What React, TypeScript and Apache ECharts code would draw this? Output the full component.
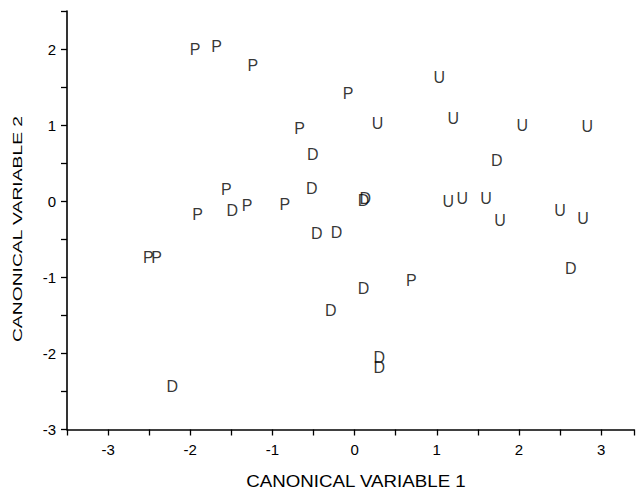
import React, { useEffect, useRef } from "react";
import * as echarts from "echarts";

// Group P
const pX = [-1.94, -1.68, -1.24, -0.08, -0.67, -1.56, -1.91, -1.31, -0.85, -2.51, -2.41, 0.69];
const pY = [2.0, 2.04, 1.78, 1.41, 0.95, 0.16, -0.17, -0.06, -0.04, -0.74, -0.74, -1.04];
// Group D
const dX = [-0.51, 1.73, -0.52, -1.49, 0.13, 0.11, -0.46, -0.22, -2.22, -0.29, 0.11, 2.63, 0.3, 0.3];
const dY = [0.62, 0.54, 0.17, -0.12, 0.03, 0.01, -0.43, -0.41, -2.43, -1.44, -1.15, -0.89, -2.06, -2.18];
// Group U
const uX = [1.03, 0.28, 1.2, 2.04, 2.83, 1.14, 1.31, 1.6, 1.77, 2.5, 2.78];
const uY = [1.62, 1.02, 1.09, 1.0, 0.98, -0.01, 0.03, 0.03, -0.25, -0.12, -0.23];

const groups = [
  { name: "P", xs: pX, ys: pY },
  { name: "D", xs: dX, ys: dY },
  { name: "U", xs: uX, ys: uY },
];

const xTitle = "CANONICAL VARIABLE 1";
const yTitle = "CANONICAL VARIABLE 2";

export default function App() {
  const ref = useRef<HTMLDivElement>(null);
  useEffect(() => {
    if (!ref.current) return;
    const chart = echarts.init(ref.current, null, { renderer: "svg" });
    const font = "'Liberation Sans', Arial, sans-serif";
    const axisCommon = {
      interval: 0.5,
      axisLine: { show: true, onZero: false, lineStyle: { color: "#000", width: 1.6 } },
      axisTick: { show: true, inside: false, length: 6, lineStyle: { color: "#000", width: 1.3 } },
      splitLine: { show: false },
      axisLabel: {
        color: "#000",
        fontSize: 15,
        fontFamily: font,
        formatter: (v: number) => (Math.abs(v - Math.round(v)) < 1e-9 ? String(Math.round(v)) : ""),
      },
    };
    chart.setOption({
      animation: false,
      backgroundColor: "#fff",
      grid: { left: 67, right: 0, top: 11, bottom: 61.5, containLabel: false },
      xAxis: {
        type: "value",
        min: -3.5,
        max: 3.4,
        ...axisCommon,
        axisLabel: { ...axisCommon.axisLabel, margin: 12 },
      },
      yAxis: {
        type: "value",
        min: -3,
        max: 2.5,
        ...axisCommon,
        axisLabel: { ...axisCommon.axisLabel, margin: 11 },
      },
      series: groups.map((g) => ({
        type: "scatter",
        name: g.name,
        symbolSize: 1,
        itemStyle: { color: "rgba(0,0,0,0)" },
        data: g.xs.map((x, i) => [x, g.ys[i]]),
        label: {
          show: true,
          position: "inside",
          formatter: g.name,
          color: "#000",
          textBorderWidth: 0,
          textBorderColor: "rgba(0,0,0,0)",
          fontSize: 16,
          fontFamily: font,
        },
        emphasis: { disabled: true },
      })),
      graphic: [
        {
          type: "text",
          x: 356,
          y: 481.5,
          scaleX: 1.17,
          style: {
            text: xTitle,
            fill: "#000",
            font: `16px ${font}`,
            textAlign: "center",
            textVerticalAlign: "middle",
          },
        },
        {
          type: "text",
          x: 18,
          y: 229,
          rotation: Math.PI / 2,
          scaleX: 1.43,
          style: {
            text: yTitle,
            fill: "#000",
            font: `13.5px ${font}`,
            textAlign: "center",
            textVerticalAlign: "middle",
          },
        },
      ],
    });
    return () => chart.dispose();
  }, []);
  return (
    <div
      ref={ref}
      style={{ position: "absolute", left: 0, top: 0, width: 637, height: 491, background: "#fff" }}
    />
  );
}
